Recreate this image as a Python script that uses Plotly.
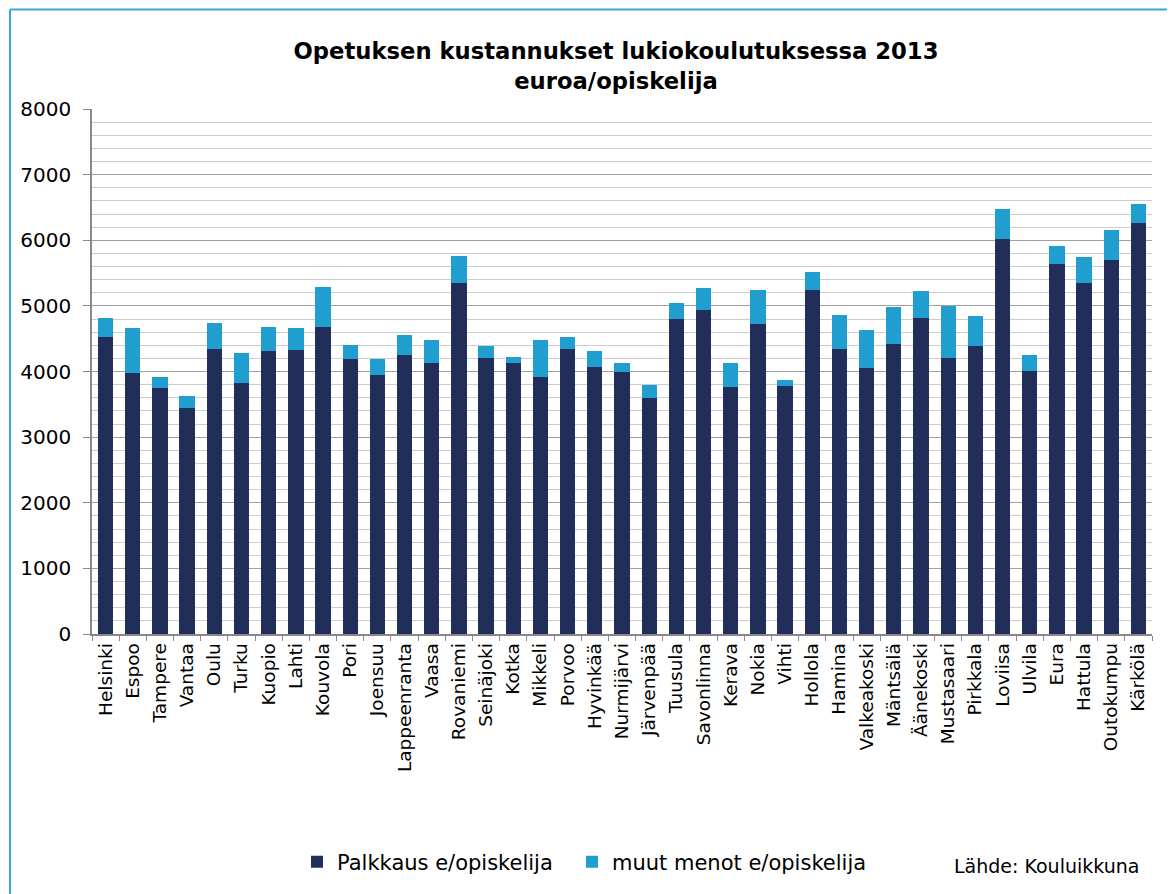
import plotly.graph_objects as go

kunnat = ["Helsinki", "Espoo", "Tampere", "Vantaa", "Oulu", "Turku", "Kuopio", "Lahti",
          "Kouvola", "Pori", "Joensuu", "Lappeenranta", "Vaasa", "Rovaniemi", "Seinäjoki",
          "Kotka", "Mikkeli", "Porvoo", "Hyvinkää", "Nurmijärvi", "Järvenpää", "Tuusula",
          "Savonlinna", "Kerava", "Nokia", "Vihti", "Hollola", "Hamina", "Valkeakoski",
          "Mäntsälä", "Äänekoski", "Mustasaari", "Pirkkala", "Loviisa", "Ulvila", "Eura",
          "Hattula", "Outokumpu", "Kärkölä"]

palkkaus = [4523, 3980, 3751, 3447, 4350, 3832, 4315, 4330, 4675, 4193, 3954, 4254, 4132,
            5355, 4203, 4137, 3914, 4340, 4066, 3985, 3594, 4802, 4934, 3761, 4726, 3777,
            5244, 4340, 4056, 4421, 4817, 4213, 4396, 6020, 4005, 5635, 5345, 5701, 6264]

muut = [289, 680, 168, 182, 386, 452, 365, 340, 619, 208, 244, 299, 345,
        411, 193, 86, 568, 183, 244, 142, 193, 239, 340, 361, 523, 86,
        279, 523, 573, 564, 417, 792, 447, 462, 244, 284, 406, 451, 294]

y_ticks = [0, 1000, 2000, 3000, 4000, 5000, 6000, 7000, 8000]

FONT = "DejaVu Sans, Verdana, sans-serif"

fig = go.Figure()
fig.add_trace(go.Bar(x=kunnat, y=palkkaus, name="Palkkaus e/opiskelija", legend="legend",
                     marker=dict(color="#222E5A", line=dict(width=0))))
fig.add_trace(go.Bar(x=kunnat, y=muut, name="muut menot e/opiskelija", legend="legend2",
                     marker=dict(color="#1F9ECF", line=dict(width=0))))

# page has an 8px body margin; plot area wanted at screen x 92..1152, y 109..634
OFF = 8
W, H = 1175, 894
L, T = 92 - OFF, 109 - OFF
pw, ph = 1060, 525
R = W - L - pw
B = H - T - ph

def px(xs):
    return (xs - 92) / pw

def py(ys):
    return (634 - ys) / ph

legend_common = dict(orientation="h", xanchor="left", y=py(862), yanchor="middle",
                     font=dict(size=21, family=FONT), itemwidth=30,
                     bgcolor="rgba(0,0,0,0)")

fig.update_layout(
    width=W, height=H,
    margin=dict(l=L, r=R, t=T, b=B, autoexpand=False),
    barmode="stack", bargap=0.437,
    plot_bgcolor="white", paper_bgcolor="white",
    font=dict(family=FONT, color="#000000"),
    title=dict(text="<b>Opetuksen kustannukset lukiokoulutuksessa 2013<br>euroa/opiskelija</b>",
               x=px(616), xanchor="center", xref="paper",
               y=1 - 51 / H, yanchor="top", yref="container",
               font=dict(size=22.7, family=FONT, color="#000000")),
    showlegend=True,
    legend=dict(x=px(297), **legend_common),
    legend2=dict(x=px(572), **legend_common),
    xaxis=dict(type="category", tickangle=-90, tickfont=dict(size=18.5, family=FONT),
               showline=True, linecolor="#888888", linewidth=1.5,
               ticks="outside", ticklen=5, tickcolor="#888888", tickson="boundaries",
               showgrid=False),
    yaxis=dict(range=[0, 8000], tickvals=y_ticks, ticktext=[str(v) for v in y_ticks],
               tickfont=dict(size=20, family=FONT),
               showline=True, linecolor="#888888", linewidth=1.5,
               ticks="outside", ticklen=7, tickcolor="#888888", ticklabelstandoff=8,
               showgrid=True, gridcolor="#A0A0A0", gridwidth=1.2, zeroline=False,
               minor=dict(dtick=200, showgrid=True, gridcolor="#CCCCCC", gridwidth=1.2)),
    annotations=[dict(text="Lähde: Kouluikkuna", xref="paper", yref="paper",
                      x=px(1141), xanchor="right", y=py(866), yanchor="middle",
                      showarrow=False, font=dict(size=19, family=FONT))],
    shapes=[
        dict(type="line", xref="paper", yref="paper", x0=px(10), x1=px(1190),
             y0=py(9.5), y1=py(9.5), line=dict(color="#3AA6DD", width=2)),
        dict(type="line", xref="paper", yref="paper", x0=px(10), x1=px(10),
             y0=py(9.5), y1=py(900), line=dict(color="#3AA6DD", width=2)),
    ],
)

fig.write_html("out.html")
